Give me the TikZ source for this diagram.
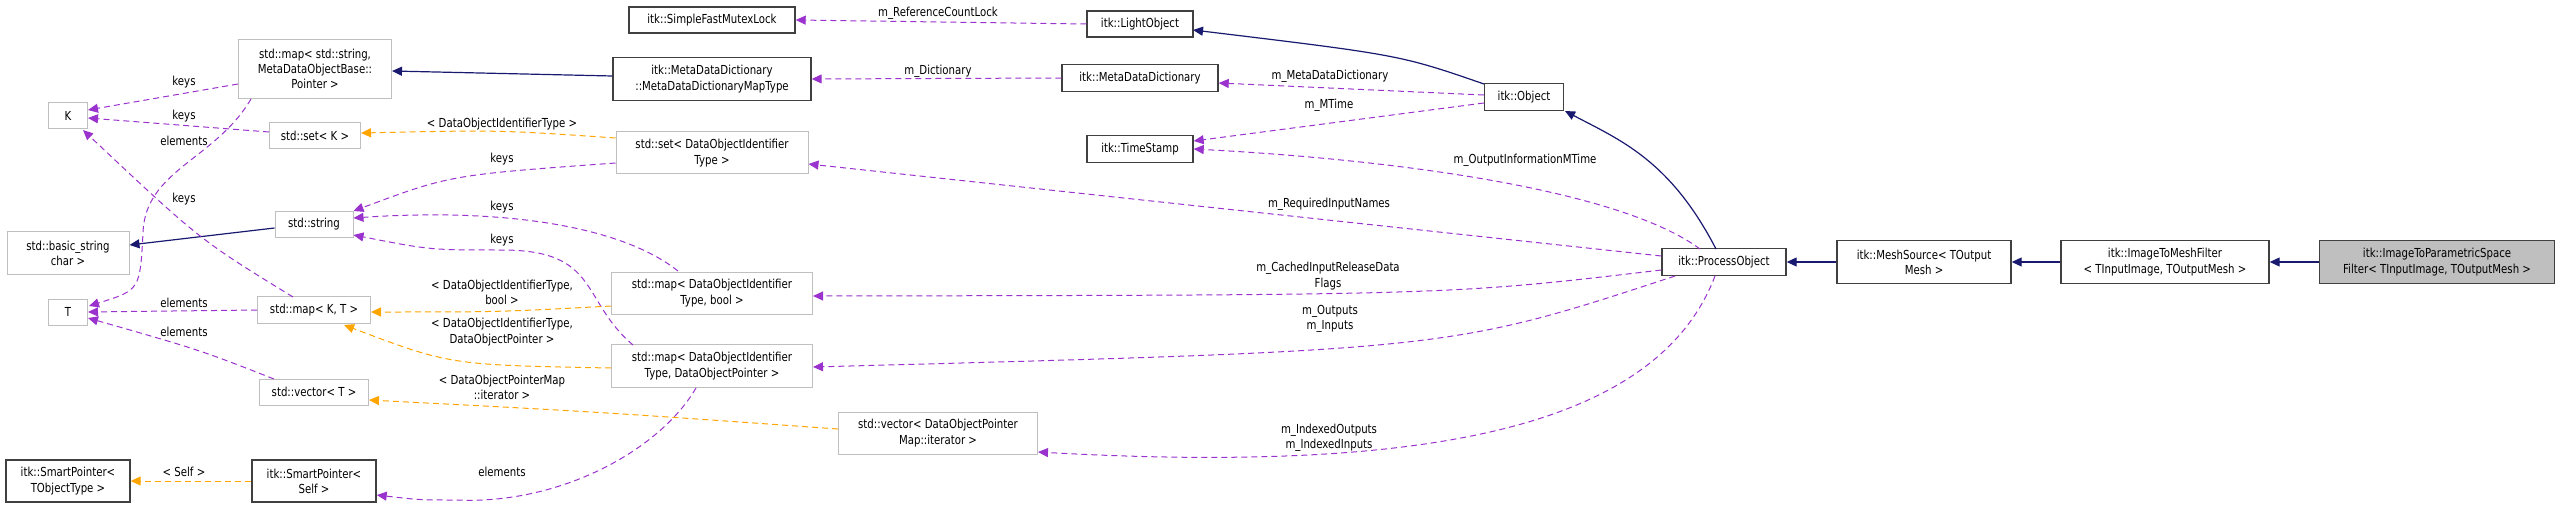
\documentclass[tikz,border=0pt]{standalone}
\usepackage{fontspec}
\setmainfont[FakeStretch=0.82]{DejaVu Sans}
\usetikzlibrary{arrows.meta,calc}
\definecolor{pur}{HTML}{9A32CD}
\definecolor{org}{HTML}{FFA500}
\definecolor{nav}{HTML}{191970}
\begin{document}
\begin{tikzpicture}[x=0.5pt,y=-0.5pt,
  every node/.style={font=\fontsize{6.2}{7.6}\selectfont,inner sep=0pt,align=center},
  sz/.style 2 args={minimum width=#1*0.5pt,minimum height=#2*0.5pt},
  gbox/.style={draw=black!25,line width=0.5pt,rectangle},
  kbox/.style={draw=black!75,line width=0.7pt,rectangle},
  tip/.style={-{Triangle[length=5pt,width=4.5pt]}},
  mem/.style={tip,draw=pur,line width=0.5pt,dash pattern=on 3pt off 2pt},
  tpl/.style={tip,draw=org,line width=0.5pt,dash pattern=on 3pt off 2pt},
  inh/.style={tip,draw=nav,line width=0.6pt},
  lbl/.style={fill=none}]
\useasboundingbox (0,0) rectangle (2560,508);
% nodes
\node[gbox,sz={39}{26}] (K) at (68,116) {K};
\node[gbox,sz={39}{26}] (T) at (68,312) {T};
\node[gbox,sz={122}{43}] (bs) at (68,253) {std::basic\_string\\char >};
\node[kbox,sz={124}{42}] (spt) at (68,481) {itk::SmartPointer<\\TObjectType >};
\node[gbox,sz={153}{59}] (mapss) at (315,69) {std::map< std::string,\\MetaDataObjectBase::\\Pointer >};
\node[gbox,sz={91}{26}] (setk) at (315,136) {std::set< K >};
\node[gbox,sz={78}{26}] (str) at (314,224) {std::string};
\node[gbox,sz={113}{27}] (mapkt) at (314,310) {std::map< K, T >};
\node[gbox,sz={109}{26}] (vect) at (314,392) {std::vector< T >};
\node[kbox,sz={124}{42}] (sps) at (314,481) {itk::SmartPointer<\\Self >};
\node[kbox,sz={166}{26}] (sfml) at (712,20) {itk::SimpleFastMutexLock};
\node[kbox,sz={198}{43}] (mddmt) at (712,79) {itk::MetaDataDictionary\\::MetaDataDictionaryMapType};
\node[gbox,sz={192}{42}] (setdoi) at (712,153) {std::set< DataObjectIdentifier\\Type >};
\node[gbox,sz={201}{42}] (mapb) at (712,293) {std::map< DataObjectIdentifier\\Type, bool >};
\node[gbox,sz={201}{43}] (mapp) at (712,366) {std::map< DataObjectIdentifier\\Type, DataObjectPointer >};
\node[gbox,sz={199}{42}] (vecdop) at (938,433) {std::vector< DataObjectPointer\\Map::iterator >};
\node[kbox,sz={106}{26}] (lo) at (1140,24) {itk::LightObject};
\node[kbox,sz={156}{27}] (mdd) at (1140,78) {itk::MetaDataDictionary};
\node[kbox,sz={106}{27}] (ts) at (1140,149) {itk::TimeStamp};
\node[kbox,sz={79}{27}] (obj) at (1524,97) {itk::Object};
\node[kbox,sz={124}{27}] (po) at (1724,262) {itk::ProcessObject};
\node[kbox,sz={174}{43}] (ms) at (1924,262) {itk::MeshSource< TOutput\\Mesh >};
\node[kbox,sz={208}{43}] (itm) at (2165,262) {itk::ImageToMeshFilter\\< TInputImage, TOutputMesh >};
\node[kbox,sz={235}{43},fill=black!25] (itp) at (2437,262) {itk::ImageToParametricSpace\\Filter< TInputImage, TOutputMesh >};
% labels
\node (l1) at (184,82) {keys};
\node (l2) at (184,116) {keys};
\node (l3) at (184,141) {elements};
\node (l4) at (184,199) {keys};
\node (l5) at (184,303) {elements};
\node (l6) at (184,332) {elements};
\node (l7) at (184,472) {< Self >};
\node (l8) at (502,124) {< DataObjectIdentifierType >};
\node (l9) at (502,159) {keys};
\node (l10) at (502,207) {keys};
\node (l11) at (502,240) {keys};
\node (l12) at (502,292) {< DataObjectIdentifierType,\\bool >};
\node (l13) at (502,332) {< DataObjectIdentifierType,\\DataObjectPointer >};
\node (l14) at (502,387) {< DataObjectPointerMap\\::iterator >};
\node (l15) at (502,472) {elements};
\node (l16) at (938,13) {m\_ReferenceCountLock};
\node (l17) at (938,71) {m\_Dictionary};
\node (l18) at (1330,76) {m\_MetaDataDictionary};
\node (l19) at (1329,105) {m\_MTime};
\node (l20) at (1525,160) {m\_OutputInformationMTime};
\node (l21) at (1329,204) {m\_RequiredInputNames};
\node (l22) at (1328,276) {m\_CachedInputReleaseData\\Flags};
\node (l23) at (1330,319) {m\_Outputs\\m\_Inputs};
\node (l24) at (1329,438) {m\_IndexedOutputs\\m\_IndexedInputs};
% inheritance
\draw[inh] ($(obj)+(-40,-13)$) .. controls (1400,55) .. ($(lo)+(53,6)$);
\draw[inh] ($(mddmt.west)+(0,-3)$) -- ($(mapss.east)+(0,2)$);
\draw[inh] ($(str.west)+(0,4)$) -- ($(bs.east)+(0,-8)$);
\draw[inh] ($(po)+(-8,-13)$) .. controls (1670,160) and (1620,140) .. ($(obj)+(41,14)$);
\draw[inh] (ms.west) -- (po.east);
\draw[inh] (itm.west) -- (ms.east);
\draw[inh] (itp.west) -- (itm.east);
% members
\draw[mem] (lo.west) -- (sfml.east);
\draw[mem] (mdd.west) -- (mddmt.east);
\draw[mem] ($(obj.west)+(0,-2)$) -- ($(mdd.east)+(0,5)$);
\draw[mem] ($(obj.west)+(0,6)$) -- ($(ts.east)+(0,-8)$);
\draw[mem] ($(po)+(-24,-13)$) .. controls (1620,190) and (1400,160) .. ($(ts.east)+(0,0)$);
\draw[mem] ($(po.west)+(0,-6)$) -- ($(setdoi.east)+(0,11)$);
\draw[mem] ($(po.west)+(0,8)$) .. controls (1450,295) .. ($(mapb.east)+(0,3)$);
\draw[mem] ($(po)+(-49,14)$) .. controls (1450,350) .. ($(mapp.east)+(0,1)$);
\draw[mem] ($(po)+(-9,14)$) .. controls (1660,420) and (1450,475) .. ($(vecdop.east)+(0,19)$);
\draw[mem] ($(setdoi.west)+(0,10)$) .. controls (450,175) .. ($(str.east)+(0,-13)$);
\draw[mem] ($(mapb)+(-34,-22)$) .. controls (620,225) and (500,208) .. ($(str.east)+(0,-6)$);
\draw[mem] ($(mapp)+(-79,-21)$) .. controls (580,300) and (600,250) .. (502,250) .. controls (430,250) .. ($(str.east)+(0,11)$);
\draw[mem] ($(mapkt)+(-21,-13)$) .. controls (200,240) .. ($(K)+(15,14)$);
\draw[mem] (mapkt.west) -- (T.east);
\draw[mem] ($(vect)+(-40,-13)$) .. controls (200,350) .. ($(T.east)+(0,6)$);
\draw[mem] ($(mapss)+(-64,30)$) .. controls (215,160) and (145,170) .. (143,233) .. controls (140,290) .. ($(T)+(21,-6)$);
\draw[mem] ($(mapss.west)+(0,15)$) -- ($(K.east)+(0,-6)$);
\draw[mem] ($(setk.west)+(0,-4)$) -- ($(K.east)+(0,2)$);
\draw[mem] ($(mapp)+(-16,22)$) .. controls (660,450) and (560,505) .. (456,500) .. controls (420,500) .. ($(sps.east)+(0,14)$);
% templates
\draw[tpl] ($(setdoi.west)+(0,-15)$) .. controls (500,130) .. ($(setk.east)+(0,-3)$);
\draw[tpl] ($(mapb.west)+(0,13)$) .. controls (500,312) .. ($(mapkt.east)+(0,2)$);
\draw[tpl] ($(mapp.west)+(0,2)$) .. controls (450,365) .. ($(mapkt)+(30,15)$);
\draw[tpl] ($(vecdop.west)+(0,-4)$) .. controls (600,412) .. ($(vect.east)+(0,8)$);
\draw[tpl] (sps.west) -- (spt.east);
\end{tikzpicture}
\end{document}
